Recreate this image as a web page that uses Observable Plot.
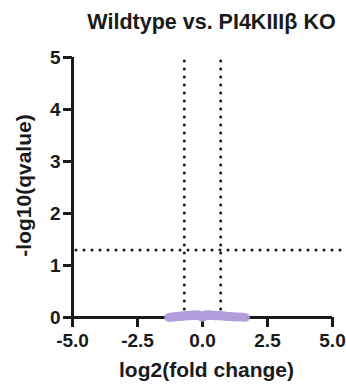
<!DOCTYPE html>
<html>
<head>
<meta charset="utf-8">
<script src="https://cdn.jsdelivr.net/npm/d3@7"></script>
<script src="https://cdn.jsdelivr.net/npm/@observablehq/plot@0.6"></script>
<style>
  html, body { margin: 0; padding: 0; background: #fff; }
  svg { display: block; }
</style>
</head>
<body>
<div id="chart"></div>
<script>
const title = "Wildtype vs. PI4KIIIβ KO";
const xLabel = "log2(fold change)";
const yLabel = "-log10(qvalue)";
const xTicks = [-5, -2.5, 0, 2.5, 5];
const xTickLabels = ["-5.0", "-2.5", "0.0", "2.5", "5.0"];
const yTicks = [0, 1, 2, 3, 4, 5];
const fcCutoffs = [-0.7, 0.7];
const qCutoff = 1.3;

const log2FC = [-1.30,-1.22,-1.15,-1.08,-1.02,-0.97,-0.91,-0.86,-0.82,-0.78,-0.74,-0.70,-0.66,-0.62,-0.58,-0.55,-0.51,-0.48,-0.44,-0.41,-0.37,-0.34,-0.30,-0.27,-0.24,-0.20,-0.17,-0.14,-0.11,-0.08,-0.05,-0.02,0.01,0.04,0.07,0.10,0.13,0.16,0.19,0.22,0.25,0.29,0.32,0.36,0.39,0.43,0.46,0.50,0.54,0.58,0.62,0.66,0.71,0.76,0.81,0.87,0.93,0.99,1.06,1.13,1.21,1.30,1.40,1.52,1.65];
const negLog10Q = [0.00,0.01,0.01,0.01,0.02,0.02,0.02,0.03,0.02,0.03,0.03,0.03,0.04,0.03,0.04,0.04,0.03,0.04,0.05,0.04,0.04,0.05,0.04,0.05,0.05,0.04,0.05,0.05,0.04,0.03,0.02,0.01,0.01,0.02,0.04,0.05,0.05,0.04,0.05,0.04,0.05,0.05,0.04,0.04,0.05,0.04,0.04,0.03,0.04,0.04,0.03,0.04,0.03,0.03,0.03,0.03,0.02,0.02,0.02,0.02,0.01,0.01,0.01,0.01,0.00];

const points = log2FC.map((x, i) => ({x, y: negLog10Q[i]}));
const ink = "#1a1a1a";
const font = "Liberation Sans, Arial, Helvetica, sans-serif";

const chart = Plot.plot({
  width: 346,
  height: 385,
  marginLeft: 72,
  marginRight: 14,
  marginTop: 57,
  marginBottom: 68,
  style: {fontFamily: font, background: "#fff", color: ink},
  x: {domain: [-5, 5], axis: null},
  y: {domain: [0, 5], axis: null},
  marks: [
    Plot.ruleX(fcCutoffs, {y1: 0, y2: 5, stroke: ink, strokeWidth: 3, strokeDasharray: "0 8", strokeLinecap: "round"}),
    Plot.ruleY([qCutoff], {x1: -5, x2: 5.3, stroke: ink, strokeWidth: 3, strokeDasharray: "0 8", strokeLinecap: "round", dx: 4}),
    Plot.ruleY([0], {x1: -5, x2: 5, stroke: ink, strokeWidth: 3}),
    Plot.ruleX([-5], {y1: 0, y2: 5, stroke: ink, strokeWidth: 3}),
    Plot.axisX({ticks: xTicks, tickFormat: (d) => xTickLabels[xTicks.indexOf(d)], tickSize: 10, tickPadding: 6, strokeWidth: 3, stroke: ink, fill: ink, fontSize: 19, fontWeight: "bold", label: null}),
    Plot.axisY({ticks: yTicks, tickFormat: (d) => String(d), tickSize: 9, tickPadding: 3, strokeWidth: 3, stroke: ink, fill: ink, fontSize: 19, fontWeight: "bold", label: null}),
    Plot.dot(points, {x: "x", y: "y", r: 4.5, fill: "#b39ddb", fillOpacity: 0.9, stroke: "none"}),
    Plot.text([title], {frameAnchor: "top", lineAnchor: "middle", textAnchor: "middle", dy: -35, dx: 9, fontSize: 21.5, fontWeight: "bold", fill: ink}),
    Plot.text([xLabel], {frameAnchor: "bottom", lineAnchor: "middle", textAnchor: "middle", dy: 53, dx: 4, fontSize: 21, fontWeight: "bold", fill: ink}),
    Plot.text([yLabel], {frameAnchor: "left", lineAnchor: "middle", textAnchor: "middle", rotate: -90, dx: -48, dy: -2, fontSize: 21, fontWeight: "bold", fill: ink})
  ]
});
document.getElementById("chart").appendChild(chart);
</script>
</body>
</html>
